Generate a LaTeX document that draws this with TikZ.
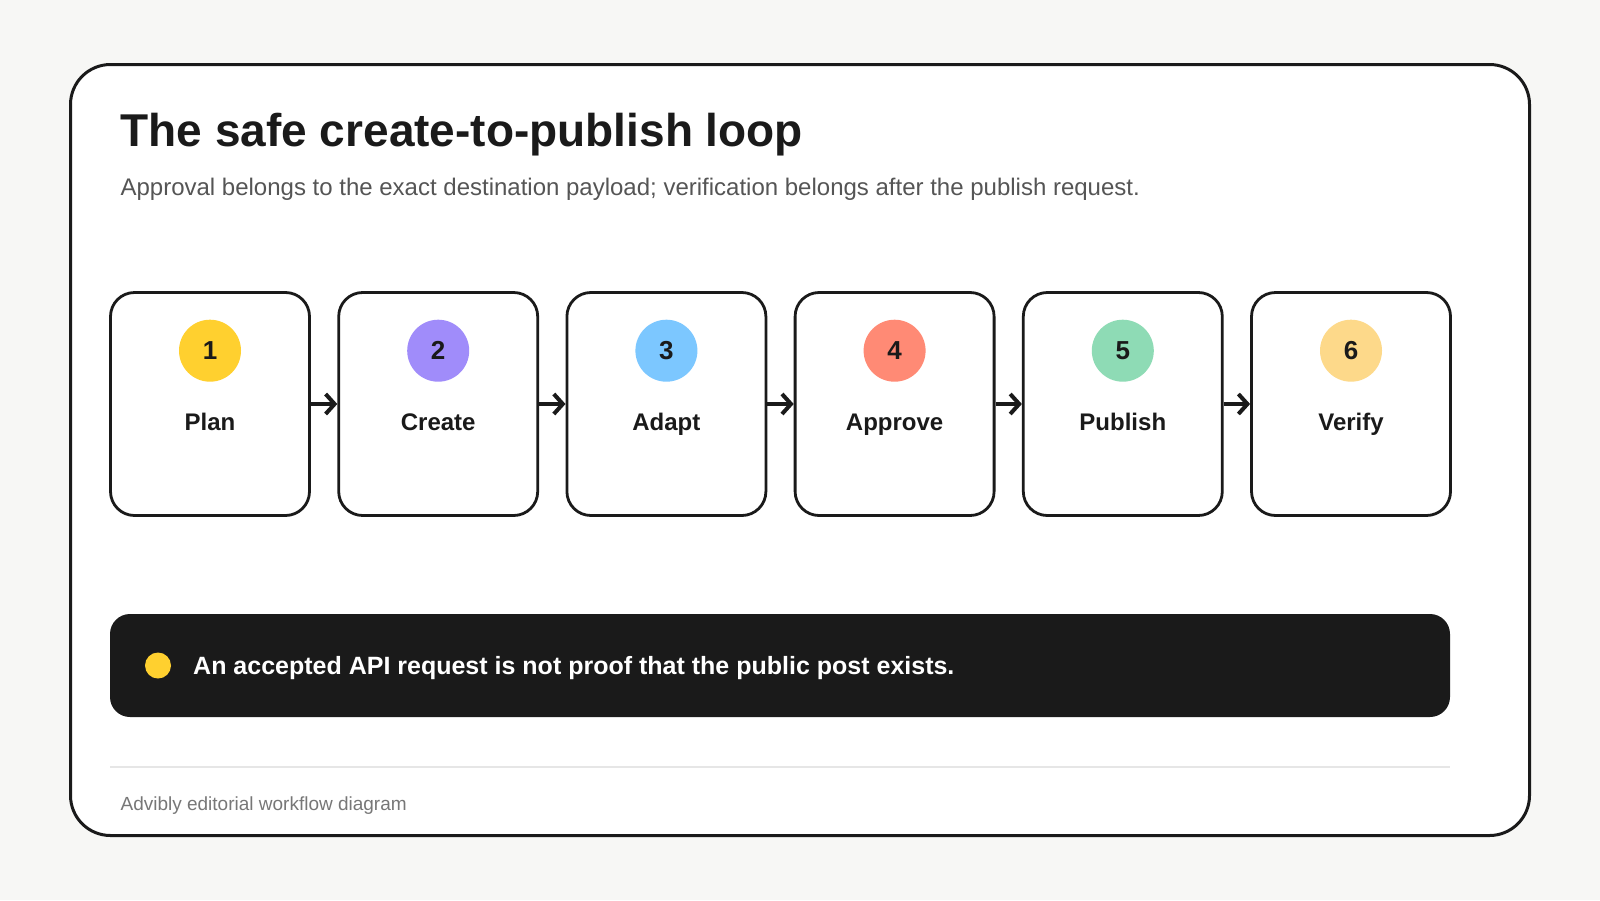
\documentclass[tikz,border=0pt]{standalone}
\usepackage{fontspec}
\setmainfont{Liberation Sans}
\usepackage{tikz}
\usetikzlibrary{arrows.meta,positioning,calc}
\tikzset{
  every picture/.append style={line width=0.6pt},
}
\tikzset{
  stepbox/.style={draw=ink, fill=white, rounded corners=12pt, line width=1.4pt, minimum width=99.5pt, minimum height=111.5pt, inner sep=0pt},
  arrow/.style={-{Straight Barb[length=4.5pt,width=10pt]}, line width=2pt, draw=ink},
  badge/.style={circle, draw=none, minimum size=31pt, inner sep=0pt, text=ink, font=\bfseries\fontsize{13}{15}\selectfont}
}

\begin{document}
\begin{tikzpicture}[
  x=0.5pt, y=-0.5pt,
  node distance=13.2pt,
  steplabel/.style={inner sep=0pt, text=ink, text height=8.8pt, text depth=2.5pt, font=\bfseries\fontsize{12}{14}\selectfont},
  title/.style={inner sep=0pt, anchor=base west, text=ink, font=\bfseries\fontsize{23}{28}\selectfont},
  subtitle/.style={inner sep=0pt, anchor=base west, text=subgray, font=\fontsize{12}{15}\selectfont},
  footer/.style={inner sep=0pt, anchor=base west, text=footgray, font=\fontsize{9.5}{12}\selectfont},
  notebar/.style={rectangle, rounded corners=10pt, draw=none, fill=ink, minimum width=670pt, minimum height=51.5pt, inner sep=0pt},
  notetext/.style={inner sep=0pt, text=white, text height=9pt, text depth=0pt, font=\bfseries\fontsize{12.5}{15}\selectfont},
  rule/.style={draw=rulegray, line width=1pt}
]

% --- Palette ---
\definecolor{ink}{HTML}{1A1A1A}
\definecolor{pagebg}{HTML}{F7F7F5}
\definecolor{subgray}{HTML}{555555}
\definecolor{footgray}{HTML}{777777}
\definecolor{rulegray}{HTML}{E6E6E6}
\definecolor{cyellow}{HTML}{FFD02F}
\definecolor{cpurple}{HTML}{A08CFA}
\definecolor{cblue}{HTML}{7CC7FF}
\definecolor{csalmon}{HTML}{FF8A75}
\definecolor{cgreen}{HTML}{8EDBB5}
\definecolor{cpeach}{HTML}{FDD98A}

% --- Page and card ---
\fill[pagebg] (0,0) rectangle (1600,900);
\useasboundingbox (0,0) rectangle (1600,900);
\draw[ink, fill=white, line width=1.5pt, rounded corners=20pt] (70.5,64.5) rectangle (1529.5,835.5);

% --- Heading ---
\node[title] (head) at (120,146) {The safe create-to-publish loop};
\node[subtitle] (sub) at (120,195) {Approval belongs to the exact destination payload; verification belongs after the publish request.};

% --- Step boxes ---
\node[stepbox] (plan) at (210,404) {};
\node[stepbox, right=of plan] (create) {};
\node[stepbox, right=of create] (adapt) {};
\node[stepbox, right=of adapt] (approve) {};
\node[stepbox, right=of approve] (publish) {};
\node[stepbox, right=of publish] (verify) {};

% --- Numbered badges ---
\node[badge, fill=cyellow, below=14pt of plan.north] (plannum) {1};
\node[badge, fill=cpurple, below=14pt of create.north] (createnum) {2};
\node[badge, fill=cblue, below=14pt of adapt.north] (adaptnum) {3};
\node[badge, fill=csalmon, below=14pt of approve.north] (approvenum) {4};
\node[badge, fill=cgreen, below=14pt of publish.north] (publishnum) {5};
\node[badge, fill=cpeach, below=14pt of verify.north] (verifynum) {6};

% --- Step names ---
\node[steplabel, below=15.2pt of plannum] (planlbl) {Plan};
\node[steplabel, below=15.2pt of createnum] (createlbl) {Create};
\node[steplabel, below=15.2pt of adaptnum] (adaptlbl) {Adapt};
\node[steplabel, below=15.2pt of approvenum] (approvelbl) {Approve};
\node[steplabel, below=15.2pt of publishnum] (publishlbl) {Publish};
\node[steplabel, below=15.2pt of verifynum] (verifylbl) {Verify};

% --- Arrows between steps ---
\draw[arrow] (plan) -- (create);
\draw[arrow] (create) -- (adapt);
\draw[arrow] (adapt) -- (approve);
\draw[arrow] (approve) -- (publish);
\draw[arrow] (publish) -- (verify);

% --- Warning bar ---
\node[notebar] (note) at (780,665.5) {};
\node[circle, fill=cyellow, draw=none, minimum size=13pt, inner sep=0pt, right=17.5pt of note.west] (dot) {};
\node[notetext, right=10.5pt of dot] (notetxt) {An accepted API request is not proof that the public post exists.};

% --- Footer ---
\draw[rule] (110,767) -- (1450,767);
\node[footer] (foot) at (120,810) {Advibly editorial workflow diagram};

\end{tikzpicture}
\end{document}
